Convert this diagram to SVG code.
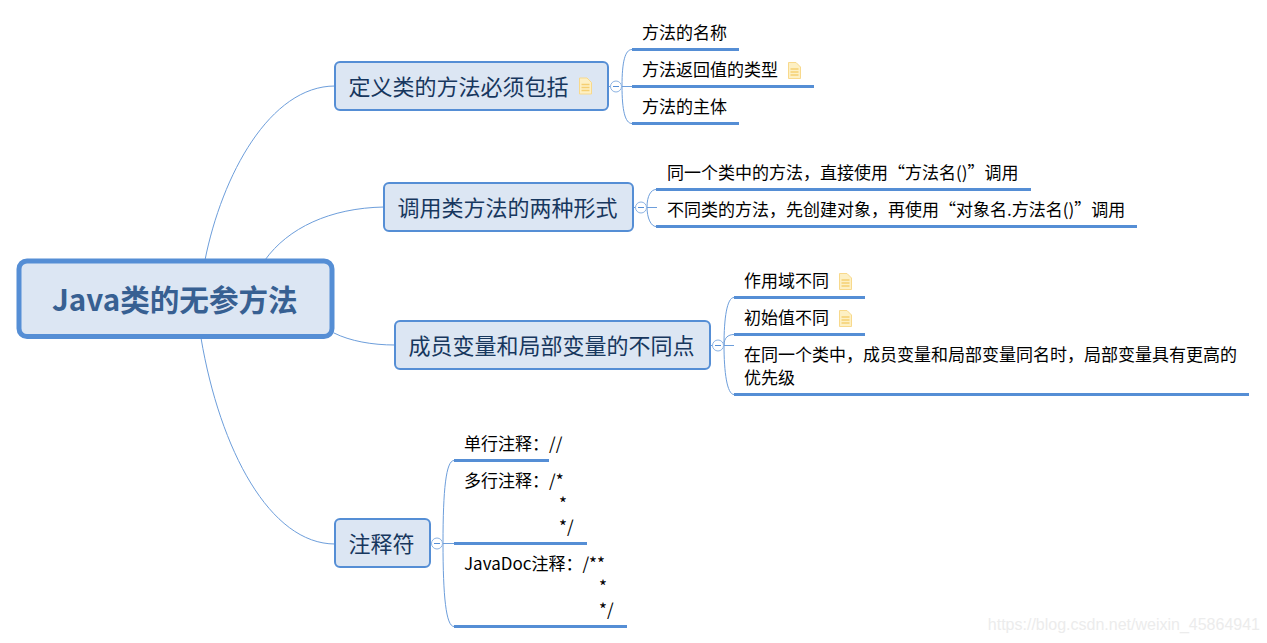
<svg xmlns="http://www.w3.org/2000/svg" width="1267" height="643" viewBox="0 0 1267 643">
<style>
text{font-family:"Noto Sans CJK SC","Noto Sans",sans-serif;}
.root{fill:#dce6f3;stroke:#558ed5;stroke-width:5}
.rt{font-size:29.600px;font-weight:700;fill:#376092}
.box{fill:#dce6f3;stroke:#558ed5;stroke-width:2}
.bt{font-size:22px;fill:#17375e}
.lf{font-size:17px;fill:#000}
.ul{stroke:#558ed5;stroke-width:3;fill:none}
.c{stroke:#6d9edb;stroke-width:1;fill:none}
.tg{fill:#fff;stroke:#8db3e2;stroke-width:1}
.tm{stroke:#558ed5;stroke-width:1}
</style>
<defs>
<g id="note"><path d="M0.500 0.500H8L12.500 5V16.500H0.500Z" fill="#fdf0c4" stroke="#f8d98c"/><path d="M2.500 7H10.500M2.500 10H10.500M2.500 13H10.500" stroke="#f5cf72" stroke-width="1.500" fill="none"/></g>
<g id="toggle"><circle r="5.500" class="tg"/><path d="M-3 0H3" class="tm"/></g>
</defs>
<rect width="1267" height="643" fill="#fff"/>
<g id="connectors">
<path class="c" d="M205 260C222 175 270 86 335 86"/>
<path class="c" d="M265 260C288 228 330 208 384 207"/>
<path class="c" d="M334 333C350 341 372 345 395 345"/>
<path class="c" d="M201 338C220 450 270 544 335 544"/>
<path class="c" d="M609 86.500H632"/>
<path class="c" d="M632 49.500C625 49.500 622 62 622 86C622 110 625 123.500 632 123.500"/>
<path class="c" d="M634 207.500H657"/>
<path class="c" d="M656 189.500C651 189.500 647 196 647 207C647 218 651 226.500 656 226.500"/>
<path class="c" d="M711 345.500H734"/>
<path class="c" d="M734 297.500C727 297.500 724 318 724 345C724 372 727 394.500 734 394.500M734 334.500C728 334.500 724 338 724 345"/>
<path class="c" d="M431 543.500H454"/>
<path class="c" d="M454 460.500C446 460.500 443 490 443 543C443 596 446 626.500 454 626.500"/>
</g>
<g id="root"><rect class="root" x="19" y="261" width="313" height="75.500" rx="8"/><text class="rt" x="52" y="310.500">Java类的无参方法</text></g>
<g id="n1"><rect class="box" x="335" y="62" width="273" height="48" rx="5"/><text class="bt" x="348.500" y="95">定义类的方法必须包括</text><use href="#note" x="579" y="77.500"/><use href="#toggle" x="616" y="86.500"/></g>
<g id="n1a"><text class="lf" x="642" y="39">方法的名称</text><path class="ul" d="M632 49.500H739"/></g>
<g id="n1b"><text class="lf" x="642" y="76">方法返回值的类型</text><use href="#note" x="788" y="62"/><path class="ul" d="M632 86.500H814"/></g>
<g id="n1c"><text class="lf" x="642" y="113">方法的主体</text><path class="ul" d="M632 123.500H739"/></g>
<g id="n2"><rect class="box" x="384" y="183" width="249" height="48" rx="5"/><text class="bt" x="397.500" y="216">调用类方法的两种形式</text><use href="#toggle" x="641" y="207.500"/></g>
<g id="n2a"><text class="lf" x="667" y="179">同一个类中的方法，直接使用“方法名()”调用</text><path class="ul" d="M656 189.500H1031"/></g>
<g id="n2b"><text class="lf" x="667" y="216">不同类的方法，先创建对象，再使用“对象名.方法名()”调用</text><path class="ul" d="M656 226.500H1137"/></g>
<g id="n3"><rect class="box" x="395" y="321" width="315" height="48" rx="5"/><text class="bt" x="408.500" y="354">成员变量和局部变量的不同点</text><use href="#toggle" x="718" y="345.500"/></g>
<g id="n3a"><text class="lf" x="744" y="287">作用域不同</text><use href="#note" x="839" y="273"/><path class="ul" d="M734 297.500H865"/></g>
<g id="n3b"><text class="lf" x="744" y="324">初始值不同</text><use href="#note" x="839" y="310"/><path class="ul" d="M734 334.500H865"/></g>
<g id="n3c"><text class="lf" x="744" y="361">在同一个类中，成员变量和局部变量同名时，局部变量具有更高的</text><text class="lf" x="744" y="384">优先级</text><path class="ul" d="M734 394.500H1249"/></g>
<g id="n4"><rect class="box" x="335" y="519" width="95" height="48" rx="5"/><text class="bt" x="348.500" y="552">注释符</text><use href="#toggle" x="437" y="543.500"/></g>
<g id="n4a"><text class="lf" x="464" y="450">单行注释：//</text><path class="ul" d="M454 460.500H549"/></g>
<g id="n4b"><text class="lf" x="464" y="487">多行注释：/*</text><text class="lf" x="559" y="510">*</text><text class="lf" x="559" y="533">*/</text><path class="ul" d="M454 543.500H587"/></g>
<g id="n4c"><text class="lf" x="464" y="570">JavaDoc注释：/**</text><text class="lf" x="599" y="593">*</text><text class="lf" x="599" y="616">*/</text><path class="ul" d="M454 626.500H627"/></g>
<text x="1260" y="630" text-anchor="end" font-size="16" fill="#ececec" style="font-family:'Liberation Sans',sans-serif">https://blog.csdn.net/weixin_45864941</text>
</svg>
